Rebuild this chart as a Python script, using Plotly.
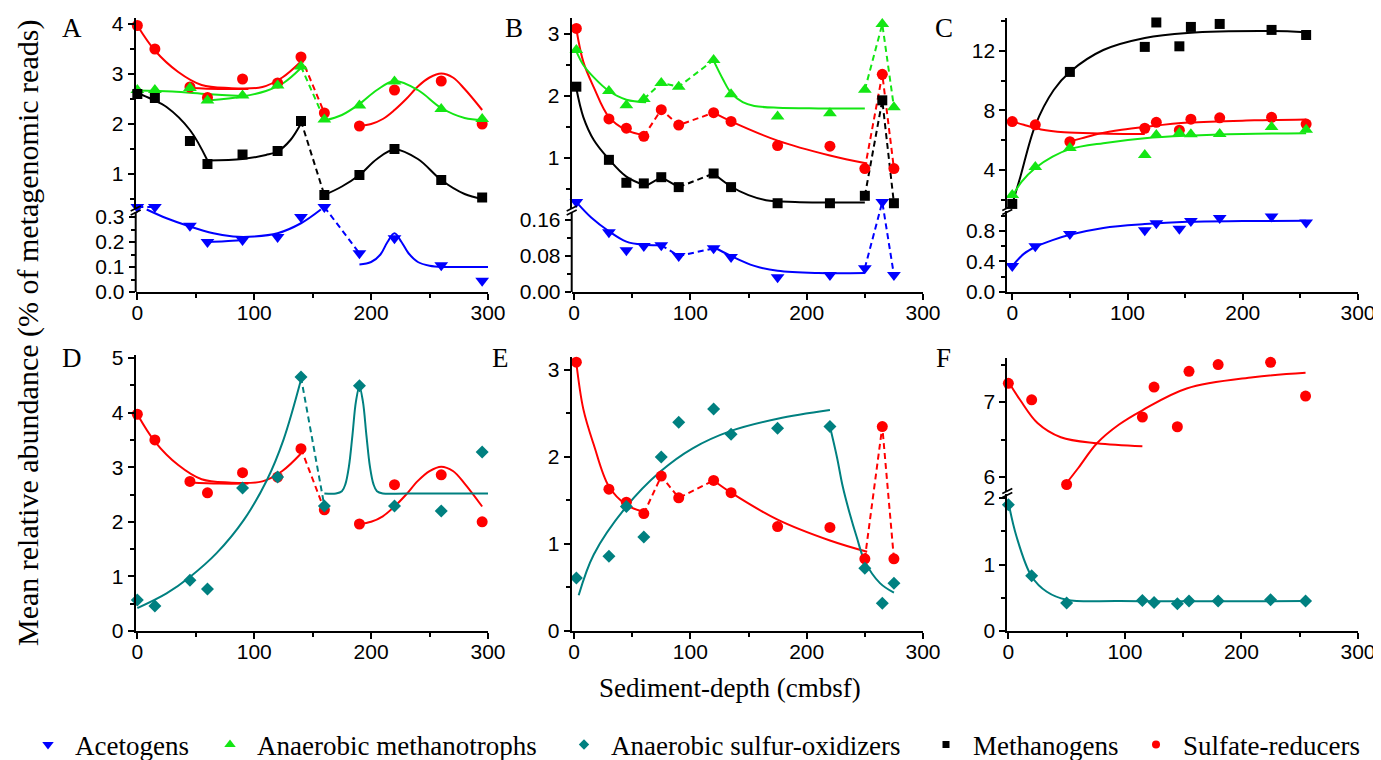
import plotly.graph_objects as go

# target picture is 1381x760; the page body adds an 8px margin, so the figure is 8px smaller
OX, OY = 8, 8
W, H = 1381 - OX, 760 - OY

# ========================= DATA =========================
# ---- Panels A / D (depth in cmbsf) ----
depth_AD = [0, 15, 45, 60, 90, 120, 140, 160, 190, 220, 260, 295]
A_acetogens = [0.34, 0.34, 0.265, 0.20, 0.208, 0.22, 0.30, 0.34, 0.155, 0.215, 0.107, 0.045]
A_methanotrophs = [2.68, 2.68, 2.72, 2.47, 2.57, 2.77, 3.15, 2.09, 2.37, 2.85, 2.30, 2.10]
A_methanogens = [2.60, 2.52, 1.66, 1.20, 1.39, 1.46, 2.06, 0.58, 0.98, 1.50, 0.88, 0.53]
AD_sulfate = [3.97, 3.50, 2.74, 2.53, 2.90, 2.82, 3.34, 2.22, 1.96, 2.68, 2.86, 2.00]
D_sulfox = [0.57, 0.46, 0.93, 0.77, 2.62, 2.82, 4.65, 2.29, 4.49, 2.29, 2.20, 3.28]

# ---- Panels B / E ----
depth_BE = [2, 30, 45, 60, 75, 90, 120, 135, 175, 220, 250, 265, 275]
B_acetogens = [0.200, 0.133, 0.093, 0.102, 0.104, 0.080, 0.097, 0.078, 0.033, 0.038, 0.053, 0.200, 0.038]
B_methanotrophs = [2.74, 2.08, 1.85, 1.95, 2.21, 2.15, 2.58, 2.03, 1.67, 1.72, 2.10, 3.16, 1.82]
B_methanogens = [2.15, 0.97, 0.60, 0.59, 0.69, 0.53, 0.75, 0.53, 0.27, 0.27, 0.39, 1.93, 0.27]
BE_sulfate = [3.09, 1.63, 1.48, 1.35, 1.78, 1.53, 1.73, 1.59, 1.20, 1.19, 0.83, 2.35, 0.83]
E_sulfox = [0.61, 0.86, 1.43, 1.08, 2.00, 2.40, 2.55, 2.26, 2.33, 2.35, 0.72, 0.32, 0.55]

# ---- Panels C / F ----
depth_CF = [0, 20, 50, 115, 125, 145, 155, 180, 225, 255]
C_acetogens = [0.34, 0.60, 0.76, 0.81, 0.90, 0.83, 0.93, 0.97, 0.99, 0.91]
C_methanotrophs = [2.32, 4.20, 5.48, 5.00, 6.35, 6.48, 6.40, 6.42, 6.88, 6.70]
depth_C_methanogens = [0, 50, 115, 125, 145, 155, 180, 225, 255]
C_methanogens = [1.72, 10.58, 12.26, 13.90, 12.30, 13.60, 13.80, 13.40, 13.06]
CF_sulfate = [7.25, 7.03, 5.90, 6.80, 7.20, 6.67, 7.41, 7.50, 7.53, 7.08]
F_sulfox = [1.90, 0.83, 0.42, 0.46, 0.43, 0.41, 0.45, 0.45, 0.47, 0.45]

# ---- fitted curves ----
fitA_sulf1_x = [0, 15, 35, 55, 78, 107, 124, 140]
fitA_sulf1_y = [3.97, 3.47, 3.04, 2.78, 2.72, 2.74, 2.93, 3.25]
fitA_sulf2_x = [45, 70, 95]
fitA_sulf2_y = [2.72, 2.70, 2.70]
dashA_sulf_x = [140, 160]
dashA_sulf_y = [3.34, 2.22]
fitA_sulf3_x = [190, 200, 210, 220, 230, 240, 250, 260, 270, 280, 295]
fitA_sulf3_y = [1.96, 2.00, 2.10, 2.28, 2.50, 2.75, 2.93, 3.01, 2.93, 2.70, 2.28]

fitA_meth1_x = [0, 30, 60, 90]
fitA_meth1_y = [2.67, 2.65, 2.60, 2.56]
fitA_meth2_x = [60, 90, 110, 125, 140]
fitA_meth2_y = [2.47, 2.55, 2.66, 2.82, 3.12]
dashA_meth_x = [140, 160]
dashA_meth_y = [3.15, 2.09]
fitA_meth3_x = [160, 175, 190, 205, 220, 240, 260, 280, 295]
fitA_meth3_y = [2.07, 2.18, 2.40, 2.68, 2.86, 2.68, 2.32, 2.12, 2.08]

fitA_mg1_x = [0, 12, 25, 45, 60]
fitA_mg1_y = [2.62, 2.50, 2.34, 1.88, 1.27]
fitA_mg2_x = [60, 90, 110, 120, 131, 140]
fitA_mg2_y = [1.27, 1.30, 1.38, 1.45, 1.68, 2.01]
dashA_mg_x = [140, 160]
dashA_mg_y = [2.06, 0.58]
fitA_mg3_x = [160, 175, 190, 205, 220, 240, 260, 280, 295]
fitA_mg3_y = [0.58, 0.75, 0.98, 1.30, 1.49, 1.30, 0.88, 0.60, 0.50]

fitA_ac1_x = [8, 25, 45, 65, 82, 100, 120, 140, 157]
fitA_ac1_y = [0.33, 0.295, 0.262, 0.235, 0.222, 0.222, 0.235, 0.275, 0.33]
fitA_ac2_x = [60, 75, 90]
fitA_ac2_y = [0.200, 0.203, 0.208]
dashA_ac1_x = [0, 15]
dashA_ac1_y = [0.34, 0.34]
dashA_ac2_x = [160, 190]
dashA_ac2_y = [0.34, 0.155]
fitA_ac3_x = [190, 200, 208, 214, 220, 226, 232, 240, 250, 262, 280, 300]
fitA_ac3_y = [0.11, 0.12, 0.15, 0.20, 0.235, 0.20, 0.155, 0.12, 0.105, 0.10, 0.10, 0.10]

fitD_so1_x = [0, 25, 45, 68, 91, 111, 125, 140]
fitD_so1_y = [0.42, 0.69, 0.99, 1.43, 2.03, 2.77, 3.50, 4.60]
dashD_so_x = [140, 160]
dashD_so_y = [4.65, 2.29]
fitD_so2_x = [160, 170, 175, 178, 181, 184, 187, 190, 193, 196, 199, 202, 205, 210, 230, 300]
fitD_so2_y = [2.52, 2.52, 2.56, 2.69, 3.01, 3.58, 4.20, 4.48, 4.20, 3.58, 3.01, 2.69, 2.56, 2.52, 2.52, 2.52]

fitBE_sulf1_x = [2, 8, 17, 30, 45, 62]
fitBE_sulf1_y = [3.08, 2.55, 2.14, 1.66, 1.45, 1.36]
dashBE_sulf1_x = [60, 75, 90, 120]
dashBE_sulf1_y = [1.35, 1.78, 1.53, 1.73]
fitBE_sulf2_x = [120, 135, 175, 220, 252]
fitBE_sulf2_y = [1.73, 1.59, 1.28, 1.04, 0.91]
dashBE_sulf2_x = [250, 265, 275]
dashBE_sulf2_y = [0.83, 2.35, 0.83]

fitB_meth1_x = [2, 8, 17, 30, 45, 62]
fitB_meth1_y = [2.72, 2.50, 2.30, 2.08, 1.94, 1.90]
dashB_meth1_x = [60, 75, 90, 120]
dashB_meth1_y = [1.95, 2.21, 2.15, 2.58]
fitB_meth2_x = [120, 128, 135, 145, 155, 175, 210, 250]
fitB_meth2_y = [2.57, 2.27, 2.05, 1.90, 1.84, 1.81, 1.80, 1.80]
dashB_meth2_x = [250, 265, 275]
dashB_meth2_y = [2.10, 3.16, 1.82]

fitB_mg1_x = [2, 8, 17, 30, 45, 62]
fitB_mg1_y = [2.12, 1.66, 1.29, 0.98, 0.70, 0.55]
zigB_mg_x = [62, 75, 90]
zigB_mg_y = [0.55, 0.69, 0.53]
dashB_mg1_x = [90, 120]
dashB_mg1_y = [0.53, 0.75]
fitB_mg2_x = [120, 135, 150, 165, 190, 250]
fitB_mg2_y = [0.75, 0.54, 0.40, 0.32, 0.29, 0.28]
dashB_mg2_x = [250, 265, 275]
dashB_mg2_y = [0.39, 1.93, 0.27]

fitB_ac1_x = [3, 15, 30, 45, 60, 75]
fitB_ac1_y = [0.197, 0.165, 0.135, 0.112, 0.105, 0.104]
dashB_ac1_x = [75, 90, 120]
dashB_ac1_y = [0.104, 0.080, 0.097]
fitB_ac2_x = [120, 135, 155, 175, 210, 250]
fitB_ac2_y = [0.100, 0.080, 0.058, 0.047, 0.042, 0.042]
dashB_ac2_x = [250, 265, 275]
dashB_ac2_y = [0.053, 0.200, 0.038]

fitE_so1_x = [4, 17, 45, 74, 102, 135, 175, 220]
fitE_so1_y = [0.41, 0.88, 1.43, 1.83, 2.10, 2.30, 2.44, 2.54]
fitE_so2_x = [220, 226, 231, 237, 243, 250, 263, 275]
fitE_so2_y = [2.35, 2.00, 1.66, 1.35, 1.08, 0.80, 0.55, 0.44]

fitC_mg_x = [0, 7, 20, 36, 50, 79, 115, 152, 225, 255]
fitC_mg_y = [1.70, 3.53, 7.00, 9.37, 10.58, 12.05, 12.86, 13.20, 13.33, 13.25]
fitCF_sulf1_x = [0, 10, 25, 45, 76, 115]
fitCF_sulf1_y = [7.27, 7.03, 6.72, 6.53, 6.45, 6.41]
fitCF_sulf2_x = [50, 60, 76, 95, 115, 153, 210, 255]
fitCF_sulf2_y = [5.92, 6.12, 6.45, 6.70, 6.89, 7.18, 7.33, 7.39]
fitC_meth_x = [0, 8, 20, 35, 50, 79, 115, 152, 200, 255]
fitC_meth_y = [2.20, 3.20, 4.13, 4.90, 5.40, 5.80, 6.13, 6.30, 6.42, 6.47]
fitC_ac_x = [0, 10, 20, 35, 50, 79, 115, 152, 200, 255]
fitC_ac_y = [0.34, 0.50, 0.59, 0.68, 0.75, 0.84, 0.89, 0.92, 0.93, 0.935]
fitF_so_x = [0, 7, 20, 33, 50, 96, 255]
fitF_so_y = [1.94, 1.42, 0.82, 0.59, 0.47, 0.45, 0.45]

legend_names = ["Acetogens", "Anaerobic methanotrophs", "Anaerobic sulfur-oxidizers",
                "Methanogens", "Sulfate-reducers"]
x_ticks = [0, 100, 200, 300]
x_minor = [50, 150, 250]

# ========================= STYLE =========================
BLUE, GREEN, TEAL, BLACK, RED = "#0000FF", "#14E614", "#008080", "#000000", "#FF0000"
SANS = "Liberation Sans"
SERIF = "Liberation Serif"


def fx(px):  # picture pixel x -> paper
    return (px - OX) / W


def fy(py):  # picture pixel y -> paper
    return 1 - (py - OY) / H


fig = go.Figure()


def add_line(xs, ys, color, xa, ya, dash=False, spline=True):
    fig.add_trace(go.Scatter(
        x=xs, y=ys, mode="lines", xaxis=xa, yaxis=ya,
        line=dict(color=color, width=2, dash="6px,4px" if dash else "solid",
                  shape="spline" if spline else "linear"),
        showlegend=False, hoverinfo="skip"))


def add_pts(xs, ys, color, symbol, size, xa, ya):
    fig.add_trace(go.Scatter(
        x=xs, y=ys, mode="markers", xaxis=xa, yaxis=ya,
        marker=dict(color=color, symbol=symbol, size=size, line=dict(width=0)),
        cliponaxis=False, showlegend=False))


SYM = dict(ac=("triangle-down", 12), me=("triangle-up", 12), so=("diamond", 10),
           mg=("square", 10), su=("circle", 11))

# ---- Panel A ----
add_line(fitA_sulf1_x, fitA_sulf1_y, RED, "x", "y2")
add_line(fitA_sulf2_x, fitA_sulf2_y, RED, "x", "y2")
add_line(dashA_sulf_x, dashA_sulf_y, RED, "x", "y2", dash=True, spline=False)
add_line(fitA_sulf3_x, fitA_sulf3_y, RED, "x", "y2")
add_line(fitA_meth1_x, fitA_meth1_y, GREEN, "x", "y2")
add_line(fitA_meth2_x, fitA_meth2_y, GREEN, "x", "y2")
add_line(dashA_meth_x, dashA_meth_y, GREEN, "x", "y2", dash=True, spline=False)
add_line(fitA_meth3_x, fitA_meth3_y, GREEN, "x", "y2")
add_line(fitA_mg1_x, fitA_mg1_y, BLACK, "x", "y2")
add_line(fitA_mg2_x, fitA_mg2_y, BLACK, "x", "y2")
add_line(dashA_mg_x, dashA_mg_y, BLACK, "x", "y2", dash=True, spline=False)
add_line(fitA_mg3_x, fitA_mg3_y, BLACK, "x", "y2")
add_line(fitA_ac1_x, fitA_ac1_y, BLUE, "x", "y")
add_line(fitA_ac2_x, fitA_ac2_y, BLUE, "x", "y")
add_line(dashA_ac1_x, dashA_ac1_y, BLUE, "x", "y", dash=True, spline=False)
add_line(dashA_ac2_x, dashA_ac2_y, BLUE, "x", "y", dash=True, spline=False)
add_line(fitA_ac3_x, fitA_ac3_y, BLUE, "x", "y")
add_pts(depth_AD, AD_sulfate, RED, *SYM["su"], "x", "y2")
add_pts(depth_AD, A_methanotrophs, GREEN, *SYM["me"], "x", "y2")
add_pts(depth_AD, A_methanogens, BLACK, *SYM["mg"], "x", "y2")
add_pts(depth_AD, A_acetogens, BLUE, *SYM["ac"], "x", "y")

# ---- Panel B ----
add_line(fitBE_sulf1_x, fitBE_sulf1_y, RED, "x2", "y4")
add_line(dashBE_sulf1_x, dashBE_sulf1_y, RED, "x2", "y4", dash=True, spline=False)
add_line(fitBE_sulf2_x, fitBE_sulf2_y, RED, "x2", "y4")
add_line(dashBE_sulf2_x, dashBE_sulf2_y, RED, "x2", "y4", dash=True, spline=False)
add_line(fitB_meth1_x, fitB_meth1_y, GREEN, "x2", "y4")
add_line(dashB_meth1_x, dashB_meth1_y, GREEN, "x2", "y4", dash=True, spline=False)
add_line(fitB_meth2_x, fitB_meth2_y, GREEN, "x2", "y4")
add_line(dashB_meth2_x, dashB_meth2_y, GREEN, "x2", "y4", dash=True, spline=False)
add_line(fitB_mg1_x, fitB_mg1_y, BLACK, "x2", "y4")
add_line(zigB_mg_x, zigB_mg_y, BLACK, "x2", "y4", spline=False)
add_line(dashB_mg1_x, dashB_mg1_y, BLACK, "x2", "y4", dash=True, spline=False)
add_line(fitB_mg2_x, fitB_mg2_y, BLACK, "x2", "y4")
add_line(dashB_mg2_x, dashB_mg2_y, BLACK, "x2", "y4", dash=True, spline=False)
add_line(fitB_ac1_x, fitB_ac1_y, BLUE, "x2", "y3")
add_line(dashB_ac1_x, dashB_ac1_y, BLUE, "x2", "y3", dash=True, spline=False)
add_line(fitB_ac2_x, fitB_ac2_y, BLUE, "x2", "y3")
add_line(dashB_ac2_x, dashB_ac2_y, BLUE, "x2", "y3", dash=True, spline=False)
add_pts(depth_BE, BE_sulfate, RED, *SYM["su"], "x2", "y4")
add_pts(depth_BE, B_methanotrophs, GREEN, *SYM["me"], "x2", "y4")
add_pts(depth_BE, B_methanogens, BLACK, *SYM["mg"], "x2", "y4")
add_pts(depth_BE, B_acetogens, BLUE, *SYM["ac"], "x2", "y3")

# ---- Panel C ----
add_line(fitC_mg_x, fitC_mg_y, BLACK, "x3", "y6")
add_line(fitCF_sulf1_x, fitCF_sulf1_y, RED, "x3", "y6")
add_line(fitCF_sulf2_x, fitCF_sulf2_y, RED, "x3", "y6")
add_line(fitC_meth_x, fitC_meth_y, GREEN, "x3", "y6")
add_line(fitC_ac_x, fitC_ac_y, BLUE, "x3", "y5")
add_pts(depth_C_methanogens, C_methanogens, BLACK, *SYM["mg"], "x3", "y6")
add_pts(depth_CF, CF_sulfate, RED, *SYM["su"], "x3", "y6")
add_pts(depth_CF, C_methanotrophs, GREEN, *SYM["me"], "x3", "y6")
add_pts(depth_CF, C_acetogens, BLUE, *SYM["ac"], "x3", "y5")

# ---- Panel D ----
add_line(fitA_sulf1_x, fitA_sulf1_y, RED, "x4", "y7")
add_line(fitA_sulf2_x, fitA_sulf2_y, RED, "x4", "y7")
add_line(dashA_sulf_x, dashA_sulf_y, RED, "x4", "y7", dash=True, spline=False)
add_line(fitA_sulf3_x, fitA_sulf3_y, RED, "x4", "y7")
add_line(fitD_so1_x, fitD_so1_y, TEAL, "x4", "y7")
add_line(dashD_so_x, dashD_so_y, TEAL, "x4", "y7", dash=True, spline=False)
add_line(fitD_so2_x, fitD_so2_y, TEAL, "x4", "y7")
add_pts(depth_AD, AD_sulfate, RED, *SYM["su"], "x4", "y7")
add_pts(depth_AD, D_sulfox, TEAL, *SYM["so"], "x4", "y7")

# ---- Panel E ----
add_line(fitBE_sulf1_x, fitBE_sulf1_y, RED, "x5", "y8")
add_line(dashBE_sulf1_x, dashBE_sulf1_y, RED, "x5", "y8", dash=True, spline=False)
add_line(fitBE_sulf2_x, fitBE_sulf2_y, RED, "x5", "y8")
add_line(dashBE_sulf2_x, dashBE_sulf2_y, RED, "x5", "y8", dash=True, spline=False)
add_line(fitE_so1_x, fitE_so1_y, TEAL, "x5", "y8")
add_line(fitE_so2_x, fitE_so2_y, TEAL, "x5", "y8")
add_pts(depth_BE, BE_sulfate, RED, *SYM["su"], "x5", "y8")
add_pts(depth_BE, E_sulfox, TEAL, *SYM["so"], "x5", "y8")

# ---- Panel F ----
add_line(fitCF_sulf1_x, fitCF_sulf1_y, RED, "x6", "y10")
add_line(fitCF_sulf2_x, fitCF_sulf2_y, RED, "x6", "y10")
add_line(fitF_so_x, fitF_so_y, TEAL, "x6", "y9")
add_pts(depth_CF, CF_sulfate, RED, *SYM["su"], "x6", "y10")
add_pts(depth_CF, F_sulfox, TEAL, *SYM["so"], "x6", "y9")

# ---- legend entries (one legend each, positioned like the original) ----
leg_style = [(BLUE, "triangle-down", 10), (GREEN, "triangle-up", 10), (TEAL, "diamond", 8),
             (BLACK, "square", 7), (RED, "circle", 8)]
leg_text_start = [77, 259, 613, 975, 1185]
legends = {}
for i, (name, (c, s, sz)) in enumerate(zip(legend_names, leg_style)):
    key = "legend" if i == 0 else f"legend{i + 1}"
    fig.add_trace(go.Scatter(x=[None], y=[None], mode="markers", name=name,
                             marker=dict(color=c, symbol=s, size=sz),
                             legend=key, showlegend=True, xaxis="x", yaxis="y"))
    legends[key] = dict(x=fx(leg_text_start[i] - 56), y=fy(745), xanchor="left",
                        yanchor="middle", orientation="h", itemwidth=44,
                        bgcolor="rgba(0,0,0,0)", borderwidth=0,
                        font=dict(family=SERIF, size=27, color="black"))

# ========================= AXES =========================
common = dict(showline=True, linecolor="black", linewidth=2, ticks="outside", ticklen=6,
              tickwidth=2, tickcolor="black", showgrid=False, zeroline=False,
              tickfont=dict(family=SANS, size=21, color="black"), fixedrange=True)


def xax(px0, px1, rng, anchor):
    d = dict(common)
    d.update(domain=[fx(px0), fx(px1)], range=rng, anchor=anchor, tickmode="array",
             tickvals=x_ticks, ticklabelstandoff=-5,
             minor=dict(tickmode="array", tickvals=x_minor, ticks="outside", ticklen=4,
                        tickwidth=2, tickcolor="black"))
    return d


def yax(py_bot, py_top, rng, anchor, tv, mv, fmt=None, line=True):
    d = dict(common)
    d.update(domain=[fy(py_bot), fy(py_top)], range=rng, anchor=anchor,
             tickmode="array", tickvals=tv,
             minor=dict(tickmode="array", tickvals=mv, ticks="outside", ticklen=4,
                        tickwidth=2, tickcolor="black"))
    if fmt:
        d["tickformat"] = fmt
    if not line:
        d["showline"] = False
    return d


layout_axes = dict(
    xaxis=xax(135.7, 488, [-1.4, 300], "y"),
    yaxis=yax(292, 204.5, [0, 0.35], "x", [0, 0.1, 0.2, 0.3], [0.05, 0.15, 0.25], ".1f", line=False),
    yaxis2=yax(209, 18, [0.30, 4.12], "x", [1, 2, 3, 4], [0.5, 1.5, 2.5, 3.5]),
    xaxis2=xax(571.7, 923, [-2, 300], "y3"),
    yaxis3=yax(292, 199.75, [0, 0.205], "x2", [0, 0.08, 0.16], [0.04, 0.12], ".2f", line=False),
    yaxis4=yax(209, 18, [0.177, 3.258], "x2", [1, 2, 3], [0.5, 1.5, 2.5]),
    xaxis3=xax(1007.3, 1358, [-4.3, 300], "y5"),
    yaxis5=yax(292, 211, [0, 1.062], "x3", [0, 0.4, 0.8], [0.2, 0.6, 1.0], ".1f"),
    yaxis6=yax(209, 18, [1.38, 14.2], "x3", [4, 8, 12], [2, 6, 10, 14]),
    xaxis4=xax(135.7, 488, [-1.4, 300], "y7"),
    yaxis7=yax(631, 355, [0, 5.055], "x4", [0, 1, 2, 3, 4, 5], [0.5, 1.5, 2.5, 3.5, 4.5]),
    xaxis5=xax(571.7, 923, [-2, 300], "y8"),
    yaxis8=yax(631, 357, [0, 3.149], "x5", [0, 1, 2, 3], [0.5, 1.5, 2.5]),
    xaxis6=xax(1007.3, 1358, [-0.9, 300], "y9"),
    yaxis9=yax(631, 494, [0, 2.06], "x6", [0, 1, 2], [0.5, 1.5]),
    yaxis10=yax(492, 358, [5.8, 7.587], "x6", [6, 7], [6.5, 7.5]),
)

# ========================= SHAPES (axis breaks) =========================
shapes = []


def seg(x0, y0, x1, y1, w=2):
    shapes.append(dict(type="line", xref="paper", yref="paper", x0=fx(x0), y0=fy(y0),
                       x1=fx(x1), y1=fy(y1), line=dict(color="black", width=w)))


# lower y-axis lines of A and B stop at the break
seg(135.7, 292, 135.7, 212)
seg(571.7, 292, 571.7, 212)


def brk(ax, by):
    for c in (by - 2, by + 2):
        seg(ax - 5, c + 2.5, ax + 5, c - 2.5, w=1.6)


brk(135.7, 210.5)
brk(571.7, 210.5)
brk(1007.3, 210)
brk(1007.3, 493)

# ========================= ANNOTATIONS =========================
ann = []
for letter, px, py in [("A", 72, 28), ("B", 514, 28), ("C", 944, 28),
                       ("D", 72, 358), ("E", 500, 358), ("F", 943, 358)]:
    ann.append(dict(text=letter, x=fx(px), y=fy(py), xref="paper", yref="paper",
                    showarrow=False, xanchor="center", yanchor="middle",
                    font=dict(family=SERIF, size=27, color="black")))
ann.append(dict(text="Mean relative abundance (% of metagenomic reads)", x=fx(28),
                y=fy(333), xref="paper", yref="paper", showarrow=False, textangle=-90,
                xanchor="center", yanchor="middle",
                font=dict(family=SERIF, size=30, color="black")))
ann.append(dict(text="Sediment-depth (cmbsf)", x=fx(730), y=fy(688), xref="paper",
                yref="paper", showarrow=False, xanchor="center", yanchor="middle",
                font=dict(family=SERIF, size=27, color="black")))

fig.update_layout(
    width=W, height=H, margin=dict(l=0, r=0, t=0, b=0, autoexpand=False),
    paper_bgcolor="white", plot_bgcolor="rgba(0,0,0,0)", template="none",
    shapes=shapes, annotations=ann, hovermode=False,
    **layout_axes, **legends)

fig.write_html("out.html")
